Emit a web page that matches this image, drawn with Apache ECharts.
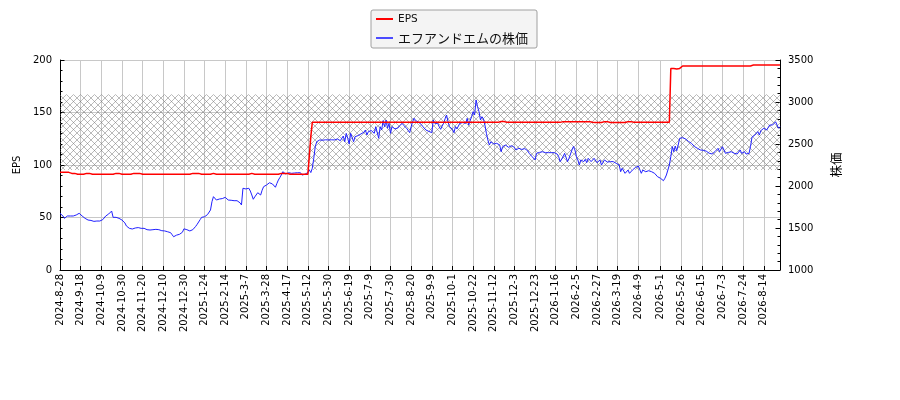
<!DOCTYPE html>
<html><head><meta charset="utf-8">
<script src="https://cdn.jsdelivr.net/npm/echarts@6/dist/echarts.min.js"></script>
<style>html,body{margin:0;padding:0;background:#fff}#c{width:900px;height:400px}</style>
</head><body><div id="c"></div>
<script>
// ---- data ----
const startDate = '2024-08-28';
const tradingDayCount = 489;
const marketHolidays = ['2024-09-16','2024-09-23','2024-10-14','2024-11-04','2024-12-31',
 '2025-01-01','2025-01-02','2025-01-03','2025-01-13','2025-02-11','2025-02-24','2025-03-20','2025-04-29',
 '2025-05-05','2025-05-06','2025-07-21','2025-08-11','2025-09-15','2025-09-23','2025-10-13','2025-11-03',
 '2025-11-24','2025-12-31','2026-01-01','2026-01-02','2026-01-12','2026-02-11','2026-02-23','2026-03-20',
 '2026-04-29','2026-05-04','2026-05-05','2026-05-06','2026-07-20','2026-08-11'];
const tickLabels = ['2024-8-28','2024-9-18','2024-10-9','2024-10-30','2024-11-20','2024-12-10','2024-12-30',
 '2025-1-24','2025-2-14','2025-3-7','2025-3-28','2025-4-17','2025-5-12','2025-5-30','2025-6-19','2025-7-9',
 '2025-7-30','2025-8-20','2025-9-9','2025-10-1','2025-10-22','2025-11-12','2025-12-3','2025-12-23',
 '2026-1-16','2026-2-5','2026-2-27','2026-3-19','2026-4-9','2026-5-1','2026-5-26','2026-6-15','2026-7-3',
 '2026-7-24','2026-8-14'];
const eps = [
 93,93,93,93,93,93,93,93,92,92,92,92,91.2,91.2,91.2,
 91.2,91.2,91.2,92,92,92,91.2,91.2,91.2,91.2,91.2,91.2,91.2,91.2,
 91.2,91.2,91.2,91.2,91.2,91.2,91.2,91.2,91.2,92,92,92,91.2,91.2,
 91.2,91.2,91.2,91.2,91.2,91.2,91.2,92,92,92,92,92,91.2,91.2,
 91.2,91.2,91.2,91.2,91.2,91.2,91.2,91.2,91.2,91.2,91.2,91.2,91.2,91.2,
 91.2,91.2,91.2,91.2,91.2,91.2,91.2,91.2,91.2,91.2,91.2,91.2,91.2,91.2,
 91.2,91.2,91.2,91.2,92,92,92,92,92,92,92,91.2,91.2,91.2,
 91.2,91.2,91.2,91.2,92,92,92,91.2,91.2,91.2,91.2,91.2,91.2,91.2,
 91.2,91.2,91.2,91.2,91.2,91.2,91.2,91.2,91.2,91.2,91.2,91.2,91.2,91.2,
 91.2,91.2,91.2,92,92,91.2,91.2,91.2,91.2,91.2,91.2,91.2,91.2,91.2,
 91.2,91.2,91.2,91.2,91.2,91.2,91.2,91.2,91.2,92,92,92,92,92,
 92,91.2,91.2,91.2,91.2,91.2,91.2,91.2,91.2,91.2,91.2,91.2,91.2,91.2,
 91.2,127,140.6,140.6,140.6,140.6,140.6,140.6,140.6,140.6,140.6,140.6,140.6,140.6,
 140.6,140.6,140.6,140.6,140.6,140.6,140.6,140.6,140.6,140.6,140.6,140.6,140.6,140.6,
 140.6,140.6,140.6,140.6,140.6,140.6,140.6,140.6,140.6,140.6,140.6,140.6,140.6,140.6,
 140.6,140.6,140.6,140.6,140.6,140.6,140.6,140.6,140.6,140.6,140.6,140.6,140.6,140.6,
 140.6,140.6,140.6,140.6,140.6,140.6,140.6,140.6,140.6,140.6,140.6,140.6,140.6,140.6,
 140.6,140.6,140.6,140.6,140.6,140.6,140.6,140.6,140.6,140.6,140.6,140.6,140.6,140.6,
 140.6,140.6,140.6,140.6,140.6,140.6,140.6,140.6,140.6,140.6,140.6,140.6,140.6,140.6,
 140.6,140.6,140.6,140.6,140.6,140.6,140.6,140.6,140.6,140.6,140.6,140.6,140.6,140.6,
 140.6,140.6,140.6,140.6,140.6,140.6,140.6,140.6,140.6,140.6,140.6,140.6,140.6,140.6,
 140.6,140.6,140.6,141.5,141.5,141.5,141.5,141.5,140.6,140.6,140.6,140.6,140.6,140.6,
 140.6,140.6,140.6,140.6,140.6,140.6,140.6,140.6,140.6,140.6,140.6,140.6,140.6,140.6,
 140.6,140.6,140.6,140.6,140.6,140.6,140.6,140.6,140.6,140.6,140.6,140.6,140.6,140.6,
 140.6,140.6,140.6,140.6,141.3,141.3,141.3,141.3,141.3,141.3,141.3,141.3,141.3,141.3,
 141.3,141.3,141.3,141.3,141.3,141.3,141.3,141.3,141.3,140.8,140.8,140.8,140.4,140.4,
 140.4,140.4,140.4,140.4,141.3,141.3,141.3,140.4,140.4,140.4,140.4,140.4,140.4,140.4,
 140.4,140.4,140.4,140.4,140.4,140.4,141.3,141.3,141.3,141.3,140.8,140.8,140.8,140.8,
 140.8,140.8,140.8,140.8,140.8,140.8,140.8,140.8,140.8,140.8,140.8,140.8,140.8,140.8,
 140.8,140.8,140.8,140.8,140.8,140.8,140.8,192,192,192,191.5,191.5,192,192,
 193.7,194.3,194.3,194.3,194.3,194.3,194.3,194.3,194.3,194.3,194.3,194.3,194.3,194.3,
 194.3,194.3,194.3,194.3,194.3,194.3,194.3,194.3,194.3,194.3,194.3,194.3,194.3,194.3,
 194.3,194.3,194.3,194.3,194.3,194.3,194.3,194.3,194.3,194.3,194.3,194.3,194.3,194.3,
 194.3,194.3,194.3,194.3,194.3,194.3,195.2,195.2,195.2,195.2,195.2,195.2,195.2,195.2,
 195.2,195.2,195.2,195.2,195.2,195.2,195.2,195.2,195.2,195.2,195.2,195.2
];
const price = [
 1675,1667,1643,1615,1631,1643,1647,1643,1647,1643,1647,1655,1667,1675,1667,
 1643,1631,1615,1604,1595,1583,1590,1575,1579,1575,1583,1575,1583,1595,
 1600,1620,1643,1655,1667,1690,1702,1627,1640,1627,1635,1615,1604,1595,
 1583,1560,1524,1510,1496,1492,1488,1480,1500,1515,1505,1500,1496,1500,
 1496,1488,1480,1484,1476,1472,1480,1488,1484,1476,1480,1472,1468,1470,
 1465,1461,1455,1450,1444,1420,1396,1405,1415,1420,1425,1429,1450,1490,
 1496,1480,1468,1465,1464,1480,1496,1520,1545,1556,1600,1627,1630,1634,
 1640,1660,1675,1714,1813,1873,1850,1833,1854,1845,1842,1850,1860,1865,
 1850,1833,1842,1830,1842,1825,1813,1825,1820,1800,1774,1973,1961,1965,
 1961,1973,1940,1893,1842,1870,1893,1920,1932,1893,1950,1992,2000,2012,
 2025,2039,2030,2024,2010,1985,2030,2071,2100,2131,2170,2160,2143,2155,
 2158,2150,2151,2140,2155,2160,2158,2150,2158,2130,2119,2140,2151,2160,
 2190,2160,2211,2330,2468,2527,2508,2548,2539,2545,2539,2550,2556,2548,
 2545,2550,2556,2548,2556,2560,2568,2539,2560,2595,2527,2627,2568,2500,
 2627,2647,2527,2587,2590,2600,2607,2620,2627,2640,2667,2607,2647,2650,
 2660,2675,2627,2706,2700,2568,2706,2667,2778,2706,2786,2687,2746,2627,
 2706,2690,2680,2667,2690,2714,2730,2746,2720,2700,2687,2660,2635,2706,
 2765,2806,2780,2765,2760,2746,2730,2706,2690,2667,2660,2650,2640,2635,
 2786,2746,2765,2746,2706,2675,2714,2746,2800,2845,2765,2706,2687,2675,
 2635,2706,2680,2667,2746,2750,2755,2750,2746,2806,2725,2780,2825,2885,
 2845,3024,2944,2885,2786,2825,2800,2726,2627,2548,2488,2527,2548,2500,
 2488,2508,2495,2488,2408,2468,2449,2488,2470,2460,2468,2480,2488,2460,
 2429,2440,2449,2440,2435,2437,2445,2449,2420,2389,2370,2349,2330,2310,
 2389,2397,2400,2397,2408,2400,2397,2408,2397,2389,2397,2390,2397,2389,
 2380,2349,2290,2310,2349,2389,2369,2290,2330,2310,2429,2470,2429,2349,
 2310,2250,2310,2330,2290,2318,2278,2330,2310,2290,2278,2330,2310,2278,
 2300,2310,2250,2262,2310,2290,2285,2278,2290,2285,2290,2275,2270,2278,
 2250,2170,2211,2190,2151,2170,2190,2151,2170,2190,2199,2220,2238,2238,
 2223,2151,2190,2180,2170,2175,2182,2182,2170,2158,2151,2130,2111,2095,
 2092,2080,2063,2092,2131,2151,2250,2349,2468,2408,2476,2420,2488,2568,
 2580,2575,2568,2560,2548,2530,2527,2508,2488,2470,2461,2449,2440,2429,
 2429,2425,2420,2415,2408,2390,2369,2381,2397,2410,2429,2449,2408,2429,
 2468,2449,2389,2408,2400,2389,2408,2420,2389,2408,2381,2400,2429,2389,
 2369,2408,2380,2369,2389,2468,2580,2568,2607,2587,2647,2607,2658,2667,
 2687,2687,2667,2687,2726,2720,2726,2746,2765,2746,2687,2706
];
const band = [2190, 3090];

// ---- trading-day categories ----
function buildDates(){
  const out = [];
  const hol = new Set(marketHolidays);
  const d = new Date(startDate + 'T00:00:00Z');
  while (out.length < tradingDayCount) {
    const wd = d.getUTCDay();
    const iso = d.toISOString().slice(0,10);
    if (wd !== 0 && wd !== 6 && !hol.has(iso)) {
      out.push(d.getUTCFullYear() + '-' + (d.getUTCMonth()+1) + '-' + d.getUTCDate());
    }
    d.setUTCDate(d.getUTCDate()+1);
  }
  return out;
}
const dates = buildDates();

function hatchCanvas(){
  const c = document.createElement('canvas');
  c.width = 7; c.height = 7;
  const g = c.getContext('2d');
  g.strokeStyle = 'rgba(110,110,110,0.6)';
  g.lineWidth = 0.8;
  g.beginPath();
  g.moveTo(0,0); g.lineTo(7,7);
  g.moveTo(7,0); g.lineTo(0,7);
  g.stroke();
  return c;
}

const isTick = (i, v) => tickLabels.indexOf(v) >= 0;
const gridColor = '#c8c8c8';
const font = 'DejaVu Sans';

const chart = echarts.init(document.getElementById('c'), null, {renderer:'canvas'});
chart.setOption({
  animation: false,
  backgroundColor: '#fff',
  grid: {left: 60, right: 120, top: 60, bottom: 130, containLabel: false},
  legend: {
    data: ['EPS', 'エフアンドエムの株価'],
    orient: 'vertical', left: 371, top: 10,
    padding: [2, 9, 3, 5],
    itemWidth: 17, itemHeight: 2, itemGap: 5, itemTextGap: 10,
    icon: 'rect',
    backgroundColor: '#f4f4f4', borderColor: '#a0a0a0', borderWidth: 1, borderRadius: 2,
    textStyle: {fontFamily: font, fontSize: 10.5, color: '#111', lineHeight: 14,
      rich: {j: {fontFamily: 'Noto Sans CJK JP', fontSize: 13, lineHeight: 14, color: '#111'}}},
    formatter: n => n === 'EPS' ? n : '{j|' + n + '}'
  },
  xAxis: {
    type: 'category', data: dates, boundaryGap: false,
    axisLine: {onZero: false, lineStyle: {color: '#000', width: 1}},
    axisTick: {inside: true, length: 4, interval: isTick, lineStyle: {color: '#000'}},
    axisLabel: {interval: isTick, rotate: 90, margin: 4, fontFamily: font, fontSize: 10, color: '#000'},
    splitLine: {show: true, interval: isTick, lineStyle: {color: gridColor, width: 1}}
  },
  yAxis: [{
    type: 'value', min: 0, max: 200, interval: 50, position: 'left',
    name: 'EPS', nameLocation: 'middle', nameGap: 34, nameRotate: 90,
    nameTextStyle: {fontFamily: font, fontSize: 10, color: '#000'},
    axisLine: {show: true, lineStyle: {color: '#000'}},
    axisTick: {show: true, inside: true, length: 4.5, lineStyle: {color: '#000'}},
    minorTick: {show: true, splitNumber: 5, length: 2.5, lineStyle: {color: '#000'}},
    axisLabel: {fontFamily: font, fontSize: 10, color: '#000', margin: 8, formatter: v => String(v)},
    splitLine: {show: true, lineStyle: {color: gridColor, width: 1}}
  }, {
    type: 'value', min: 1000, max: 3500, interval: 500, position: 'right',
    name: '株価', nameLocation: 'middle', nameGap: 50, nameRotate: 90,
    nameTextStyle: {fontFamily: 'Noto Sans CJK JP', fontSize: 12.5, color: '#000'},
    axisLine: {show: true, lineStyle: {color: '#000'}},
    axisTick: {show: true, inside: true, length: 4.5, lineStyle: {color: '#000'}},
    minorTick: {show: true, splitNumber: 5, length: 2.5, lineStyle: {color: '#000'}},
    axisLabel: {fontFamily: font, fontSize: 10, color: '#000', margin: 8, formatter: v => String(v)},
    splitLine: {show: false}
  }],
  series: [{
    name: 'エフアンドエムの株価', type: 'line', yAxisIndex: 1, data: price,
    symbol: 'none', showSymbol: false,
    lineStyle: {color: '#2020ff', width: 1}, itemStyle: {color: '#4b4bff'},
    markArea: {silent: true, itemStyle: {color: {image: hatchCanvas(), repeat: 'repeat'}},
      data: [[{yAxis: band[0]}, {yAxis: band[1]}]]},
    z: 2
  }, {
    name: 'EPS', type: 'line', yAxisIndex: 0, data: eps,
    symbol: 'none', showSymbol: false,
    lineStyle: {color: '#ff0000', width: 1.5}, itemStyle: {color: '#ff0000'},
    z: 3
  }]
});
</script>
</body></html>
